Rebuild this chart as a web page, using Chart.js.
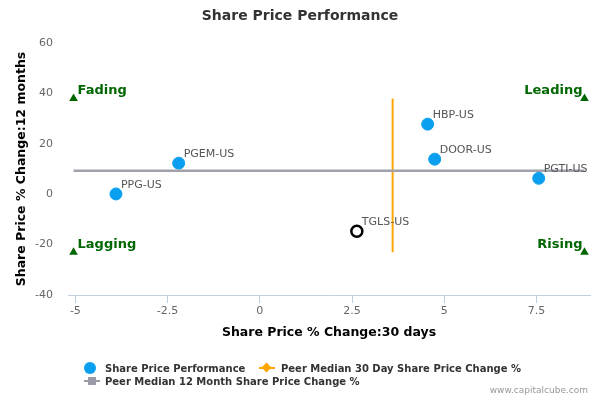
<!DOCTYPE html>
<html>
<head>
<meta charset="utf-8">
<script src="https://cdn.jsdelivr.net/npm/chart.js@4.4.1/dist/chart.umd.min.js"></script>
<style>
  html, body { margin: 0; padding: 0; background: #fff; }
  #wrap { position: relative; width: 600px; height: 400px; font-family: "DejaVu Sans", sans-serif; }
  #chart { position: absolute; left: 0; top: 0; }
  .legend-item { position: absolute; font-size: 10px; font-weight: bold; color: #333; white-space: nowrap; line-height: 12px; }
  .credit { position: absolute; right: 12px; top: 385px; font-size: 9px; color: #999; }
</style>
</head>
<body>
<div id="wrap">
  <canvas id="chart" width="600" height="400"></canvas>
  <div class="legend-item" style="left:84px; top:362px;">
    <span style="display:inline-block;width:12px;height:12px;border-radius:6px;background:#0ba0ef;vertical-align:-2px;margin-right:9px;"></span>Share Price Performance
  </div>
  <div class="legend-item" style="left:259px; top:362px;">
    <span style="position:relative;display:inline-block;width:16px;height:12px;vertical-align:-2px;margin-right:6px;">
      <span style="position:absolute;left:0;top:5px;width:16px;height:2px;background:#ffa500;"></span>
      <span style="position:absolute;left:4px;top:2px;width:7px;height:7px;background:#ffa500;transform:rotate(45deg);"></span>
    </span>Peer Median 30 Day Share Price Change %
  </div>
  <div class="legend-item" style="left:84px; top:375px;">
    <span style="position:relative;display:inline-block;width:16px;height:12px;vertical-align:-2px;margin-right:5px;">
      <span style="position:absolute;left:0;top:5px;width:16px;height:2px;background:#9a9ba6;"></span>
      <span style="position:absolute;left:4px;top:2px;width:8px;height:8px;background:#9a9ba6;"></span>
    </span>Peer Median 12 Month Share Price Change %
  </div>
  <div class="credit">www.capitalcube.com</div>
</div>
<script>
// peers
const tickers = ['PPG-US', 'PGEM-US', 'HBP-US', 'DOOR-US', 'PGTI-US'];
const change30d = [-3.9, -2.2, 4.55, 4.74, 7.56];
const change12m = [0.1, 12.3, 27.8, 13.9, 6.3];

// company in focus
const focusTicker = 'TGLS-US';
const focus30d = 2.63;
const focus12m = -14.7;

// peer medians
const median30d = 3.6;
const median12m = 9.3;

// quadrant markers
const quadrantNames = ['Fading', 'Leading', 'Lagging', 'Rising'];
const quadrantX = [-5.05, 8.8, -5.05, 8.8];
const quadrantY = [38, 38, -23, -23];

const xTicks = [-5, -2.5, 0, 2.5, 5, 7.5];
const yTicks = [-40, -20, 0, 20, 40, 60];

const FONT = '"DejaVu Sans", sans-serif';

const labelPlugin = {
  id: 'labels',
  afterDatasetsDraw(chart) {
    const c = chart.ctx;
    const xs = chart.scales.x, ys = chart.scales.y;
    c.save();
    c.font = '11px ' + FONT;
    c.fillStyle = '#555';
    c.textBaseline = 'middle';
    c.textAlign = 'left';
    tickers.forEach((t, i) => {
      c.fillText(t, xs.getPixelForValue(change30d[i]) + 5, ys.getPixelForValue(change12m[i]) - 9);
    });
    c.fillText(focusTicker, xs.getPixelForValue(focus30d) + 5, ys.getPixelForValue(focus12m) - 9);

    c.font = 'bold 13px ' + FONT;
    c.fillStyle = '#006600';
    quadrantNames.forEach((n, i) => {
      const px = xs.getPixelForValue(quadrantX[i]);
      const py = ys.getPixelForValue(quadrantY[i]);
      if (quadrantX[i] < 0) {
        c.textAlign = 'left';
        c.fillText(n, px + 4, py - 8);
      } else {
        c.textAlign = 'right';
        c.fillText(n, px - 2, py - 8);
      }
    });

    c.font = 'bold 14px ' + FONT;
    c.fillStyle = '#333';
    c.textAlign = 'center';
    c.fillText('Share Price Performance', 300, 16);
    c.restore();
  }
};

new Chart(document.getElementById('chart'), {
  type: 'scatter',
  data: {
    datasets: [
      {
        label: 'Peer Median 12 Month Share Price Change %',
        data: [{x: quadrantX[0], y: median12m}, {x: quadrantX[1], y: median12m}],
        showLine: true,
        borderColor: '#a0a1ab',
        borderWidth: 2.5,
        pointRadius: 0
      },
      {
        label: 'Peer Median 30 Day Share Price Change %',
        data: [{x: median30d, y: quadrantY[0]}, {x: median30d, y: quadrantY[2]}],
        showLine: true,
        borderColor: '#ffa500',
        borderWidth: 2,
        pointRadius: 0
      },
      {
        label: 'Share Price Performance',
        data: tickers.map((t, i) => ({x: change30d[i], y: change12m[i]})),
        backgroundColor: '#0ba0ef',
        borderColor: '#0ba0ef',
        pointRadius: 6,
        pointHoverRadius: 6
      },
      {
        label: focusTicker,
        data: [{x: focus30d, y: focus12m}],
        backgroundColor: '#fff',
        borderColor: '#000',
        borderWidth: 2.5,
        pointRadius: 5.5
      },
      {
        label: 'quadrants',
        data: quadrantNames.map((n, i) => ({x: quadrantX[i], y: quadrantY[i]})),
        pointStyle: 'triangle',
        backgroundColor: '#006600',
        borderColor: '#006600',
        borderWidth: 0,
        pointRadius: 5
      }
    ]
  },
  options: {
    responsive: false,
    animation: false,
    layout: { padding: { top: 43, left: 0, right: 10, bottom: 60 } },
    plugins: {
      legend: { display: false },
      tooltip: { enabled: false },
      title: { display: false }
    },
    scales: {
      x: {
        type: 'linear',
        min: -5.2,
        max: 8.95,
        afterBuildTicks: s => { s.ticks = xTicks.map(v => ({value: v})); },
        afterFit: s => { s.height = 45; },
        ticks: { color: '#666', font: { family: FONT, size: 11 }, padding: 2 },
        grid: { drawOnChartArea: false, color: '#c0d0e0', tickLength: 8 },
        border: { color: '#c0d0e0' },
        title: {
          display: true,
          text: 'Share Price % Change:30 days',
          color: '#000',
          font: { family: FONT, size: 12.5, weight: 'bold' },
          padding: { top: 2, bottom: 0 }
        }
      },
      y: {
        type: 'linear',
        min: -40,
        max: 60,
        afterBuildTicks: s => { s.ticks = yTicks.map(v => ({value: v})); },
        afterFit: s => { s.width = 68; },
        ticks: { color: '#666', font: { family: FONT, size: 11 }, padding: 15 },
        grid: { display: false, drawTicks: false },
        border: { display: false },
        title: {
          display: true,
          text: 'Share Price % Change:12 months',
          color: '#000',
          font: { family: FONT, size: 12.5, weight: 'bold' },
          padding: { top: 14, bottom: 0 }
        }
      }
    }
  },
  plugins: [labelPlugin]
});
</script>
</body>
</html>
